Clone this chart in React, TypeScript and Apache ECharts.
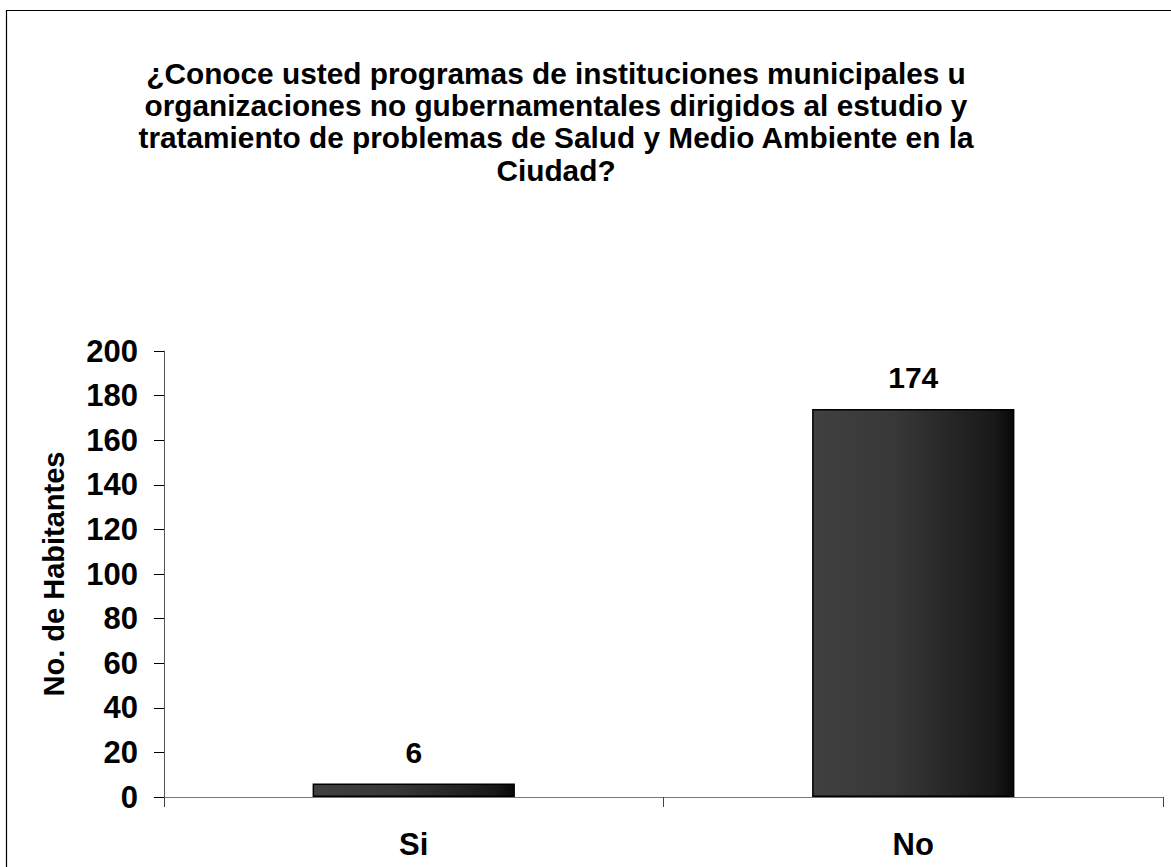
import React, { useEffect, useRef } from "react";
import * as echarts from "echarts";

const categories = ["Si", "No"];
const values = [6, 174];
const titleLines = [
  "¿Conoce usted programas de instituciones municipales u",
  "organizaciones no gubernamentales dirigidos al estudio y",
  "tratamiento de problemas de Salud y Medio Ambiente en la",
  "Ciudad?",
];
const yAxisName = "No. de Habitantes";
const yMin = 0;
const yMax = 200;
const yInterval = 20;

const FONT = 'Arial, "Liberation Sans", sans-serif';

export default function App() {
  const ref = useRef<HTMLDivElement>(null);
  useEffect(() => {
    if (!ref.current) return;
    const chart = echarts.init(ref.current, undefined, { renderer: "svg" });
    const titleGraphics = titleLines.map((line, i) => ({
      type: "text",
      x: 556,
      y: 73 + i * 32.4,
      style: {
        text: line,
        font: `bold 29.8px ${FONT}`,
        fill: "#000",
        align: "center",
        verticalAlign: "middle",
      },
    }));
    chart.setOption({
      animation: false,
      backgroundColor: "#fff",
      grid: { left: 164, top: 351, right: 8, bottom: 70, containLabel: false },
      graphic: [
        {
          type: "rect",
          shape: { x: 6.5, y: 10.5, width: 3000, height: 3000 },
          style: { fill: "none", stroke: "#000", lineWidth: 1.2 },
          silent: true,
        },
        ...titleGraphics,
      ],
      xAxis: {
        type: "category",
        data: categories,
        axisLine: { lineStyle: { color: "#777", width: 1 } },
        axisTick: { show: true, length: 10, lineStyle: { color: "#444" } },
        axisLabel: {
          margin: 32,
          color: "#000",
          fontSize: 31,
          fontWeight: "bold",
          fontFamily: FONT,
        },
      },
      yAxis: {
        type: "value",
        min: yMin,
        max: yMax,
        interval: yInterval,
        name: yAxisName,
        nameLocation: "middle",
        nameGap: 96,
        nameRotate: 90,
        nameTextStyle: {
          color: "#000",
          fontSize: 29,
          fontWeight: "bold",
          fontFamily: FONT,
        },
        splitLine: { show: false },
        axisLine: { show: true, lineStyle: { color: "#555", width: 1 } },
        axisTick: { show: true, length: 10, lineStyle: { color: "#000" } },
        axisLabel: {
          margin: 26,
          color: "#000",
          fontSize: 31,
          fontWeight: "bold",
          fontFamily: FONT,
        },
      },
      series: [
        {
          type: "bar",
          data: values,
          barWidth: "40.5%",
          itemStyle: {
            color: new echarts.graphic.LinearGradient(0, 0, 1, 0, [
              { offset: 0, color: "#404040" },
              { offset: 0.4, color: "#383838" },
              { offset: 0.9, color: "#191919" },
              { offset: 1, color: "#080808" },
            ]),
            borderColor: "#000",
            borderWidth: 1.5,
          },
          label: {
            show: true,
            position: "top",
            distance: 16,
            color: "#000",
            fontSize: 30,
            fontWeight: "bold",
            fontFamily: FONT,
          },
        },
      ],
    });
    return () => chart.dispose();
  }, []);
  return (
    <div
      ref={ref}
      style={{ position: "fixed", left: 0, top: 0, width: 1171, height: 867 }}
    />
  );
}
